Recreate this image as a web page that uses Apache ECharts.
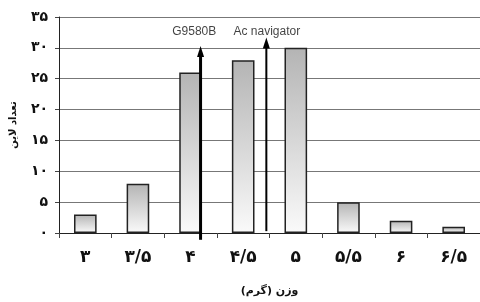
<!DOCTYPE html>
<html><head><meta charset="utf-8">
<script src="https://cdn.jsdelivr.net/npm/echarts@6/dist/echarts.min.js"></script>
<style>html,body{margin:0;padding:0;background:#fff}#c{width:480px;height:302px}</style>
</head><body><div id="c"></div>
<script>
const categories = ['۳', '۳/۵', '۴', '۴/۵', '۵', '۵/۵', '۶', '۶/۵'];
const counts = [3, 8, 26, 28, 30, 5, 2, 1];
const yTicks = ['۰', '۵', '۱۰', '۱۵', '۲۰', '۲۵', '۳۰', '۳۵'];
const arrowNames = ['G9580B', 'Ac navigator'];
const arrowX = [2.69, 3.94];
const arrowFrom = [-1.1, 0.3];
const arrowTo = [29.4, 30.8];
const labelPos = [[2.57, 32.6], [3.95, 32.6]];

const chart = echarts.init(document.getElementById('c'), null, {renderer: 'canvas'});
const font = '"DejaVu Sans", "Noto Sans", sans-serif';
const arrowWidths = [3, 2];
const arrowSeries = arrowX.map((x, i) => ({
  type: 'line', xAxisIndex: 1, silent: true, clip: false,
  lineStyle: {color: '#000', width: arrowWidths[i]},
  itemStyle: {color: '#000'},
  symbolKeepAspect: true,
  data: [
    {value: [x, arrowFrom[i]], symbol: 'none'},
    {value: [x, arrowTo[i]], symbol: 'triangle', symbolSize: [7, 11]}
  ]
}));
chart.setOption({
  animation: false,
  grid: {left: 51, right: 0, top: 17, bottom: 66},
  xAxis: [{
    type: 'category', data: categories,
    axisLine: {lineStyle: {color: '#222', width: 1}},
    axisTick: {show: true, length: 5, lineStyle: {color: '#444'}},
    axisLabel: {color: '#111', fontSize: 17, fontWeight: 'bold', fontFamily: font, margin: 16},
    name: 'وزن (گرم)', nameLocation: 'middle', nameGap: 53,
    nameTextStyle: {color: '#111', fontSize: 11, fontWeight: 'bold', fontFamily: font}
  }, {
    type: 'value', min: 0, max: 8, show: false
  }],
  yAxis: {
    type: 'value', min: 0, max: 35, interval: 5,
    axisLine: {show: true, lineStyle: {color: '#222', width: 1}},
    axisTick: {show: true, length: 4, lineStyle: {color: '#444'}},
    splitLine: {lineStyle: {color: '#777', width: 1}},
    axisLabel: {color: '#111', fontSize: 14, fontWeight: 'bold', fontFamily: font, margin: 11,
      formatter: (v) => yTicks[v / 5]},
    name: 'تعداد لاین', nameLocation: 'middle', nameGap: 41, nameRotate: 90,
    nameTextStyle: {color: '#111', fontSize: 10, fontWeight: 'bold', fontFamily: font}
  },
  series: [{
    type: 'bar', data: counts, barWidth: '43%', xAxisIndex: 0,
    itemStyle: {
      borderColor: '#222', borderWidth: 1.5,
      color: new echarts.graphic.LinearGradient(0, 0, 0, 1, [
        {offset: 0, color: '#b4b4b4'}, {offset: 1, color: '#fafafa'}
      ])
    }
  }, ...arrowSeries, {
    type: 'scatter', xAxisIndex: 1, symbolSize: 0, silent: true,
    data: labelPos.map((p, i) => ({value: p, name: arrowNames[i]})),
    label: {show: true, position: 'inside', formatter: (p) => p.name,
      color: '#111', fontSize: 12, fontFamily: '"Liberation Sans", Arial, sans-serif'}
  }]
});
</script></body></html>
